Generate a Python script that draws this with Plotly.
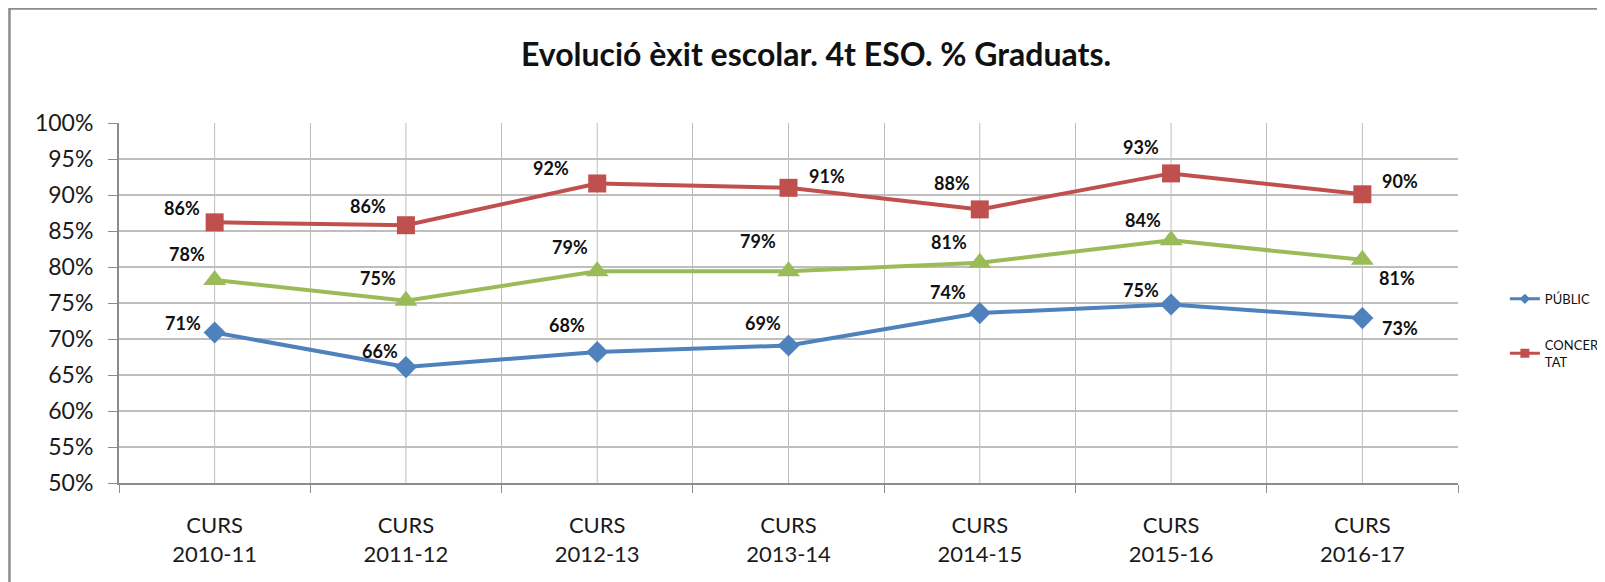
import plotly.graph_objects as go

# ---- data ----
categories = ["CURS<br>2010-11", "CURS<br>2011-12", "CURS<br>2012-13", "CURS<br>2013-14",
              "CURS<br>2014-15", "CURS<br>2015-16", "CURS<br>2016-17"]
publico = [0.709, 0.661, 0.682, 0.691, 0.736, 0.748, 0.729]
concertat = [0.862, 0.858, 0.916, 0.910, 0.880, 0.930, 0.901]
total = [0.782, 0.753, 0.794, 0.794, 0.806, 0.837, 0.810]
y_ticks = [0.50, 0.55, 0.60, 0.65, 0.70, 0.75, 0.80, 0.85, 0.90, 0.95, 1.00]

# ---- label placement (pixel offsets, layout only) ----
off_pub = [(-32, 10), (-26, 16), (-30, 27), (-26, 22), (-32, 21), (-30, 14), (38, -10)]
off_con = [(-33, 14), (-38, 19), (-46, 15), (38, 12), (-28, 26), (-30, 26), (38, 13)]
off_tot = [(-28, 26), (-28, 23), (-27, 24), (-31, 30), (-31, 21), (-28, 20), (35, -18)]

BLUE = "#4F81BD"
RED = "#C0504D"
GREEN = "#9BBB59"
FONT = "Lato"
GRID = "#BEBEBE"
AXIS = "#8C8C8C"

fig = go.Figure()
fig.add_trace(go.Scatter(x=categories, y=publico, name="PÚBLIC", mode="lines+markers",
                         line=dict(color=BLUE, width=4),
                         marker=dict(symbol="diamond", size=17, color=BLUE),
                         showlegend=False))
fig.add_trace(go.Scatter(x=categories, y=concertat, name="CONCERTAT", mode="lines+markers",
                         line=dict(color=RED, width=4),
                         marker=dict(symbol="square", size=18, color=RED),
                         showlegend=False))
fig.add_trace(go.Scatter(x=categories, y=total, name="TOTAL", mode="lines+markers",
                         line=dict(color=GREEN, width=4),
                         marker=dict(symbol="triangle-up", size=20, color=GREEN),
                         showlegend=False))

# legend entries (smaller legend symbols, as in the original)
fig.add_trace(go.Scatter(x=[None], y=[None], name="PÚBLIC", mode="lines+markers",
                         line=dict(color=BLUE, width=3),
                         marker=dict(symbol="diamond", size=8, color=BLUE),
                         legendgroup="a"))
fig.add_trace(go.Scatter(x=[None], y=[None], name="CONCER<br>TAT", mode="lines+markers",
                         line=dict(color=RED, width=3),
                         marker=dict(symbol="square", size=9, color=RED),
                         legendgroup="b"))

for vals, offs in ((publico, off_pub), (concertat, off_con), (total, off_tot)):
    for c, v, (dx, dy) in zip(categories, vals, offs):
        fig.add_annotation(x=c, y=v, text=f"{round(v * 100)}%", showarrow=False,
                           xshift=dx, yshift=dy,
                           font=dict(family=FONT, size=18, color="#111111", weight="bold"))

# vertical gridlines at category centres
for c in categories:
    fig.add_shape(type="line", xref="x", yref="paper", x0=c, x1=c, y0=0, y1=1,
                  line=dict(color=GRID, width=1), layer="below")

# outer chart frame (top and left visible)
fig.add_shape(type="path", xref="paper", yref="paper",
              path="M -0.0818,-0.35 L -0.0818,1.318 L 1.15,1.318",
              line=dict(color=AXIS, width=2.5))

fig.update_layout(
    width=1605, height=582,
    margin=dict(l=111, r=155, t=115, b=107, autoexpand=False),
    paper_bgcolor="white", plot_bgcolor="white",
    title=dict(text="<b>Evolució èxit escolar. 4t ESO. % Graduats.</b>",
               x=808 / 1605, xref="container", xanchor="center",
               y=1 - 47 / 582, yref="container", yanchor="middle",
               font=dict(family=FONT, size=32, color="#111111")),
    legend=dict(x=1.035, y=0.553, xanchor="left", yanchor="top",
                font=dict(family=FONT, size=13, color="#111111"),
                tracegroupgap=26, traceorder="grouped",
                bgcolor="rgba(0,0,0,0)"),
    font=dict(family=FONT),
)
fig.update_xaxes(type="category", tickson="boundaries", showgrid=True, gridcolor=GRID,
                 gridwidth=1, ticks="outside", ticklen=8, tickcolor=AXIS,
                 showline=True, linecolor=AXIS, linewidth=2,
                 tickfont=dict(family=FONT, size=22, color="#1a1a1a"),
                 ticklabelstandoff=22, range=[-0.5, 6.5], automargin=False)
fig.update_yaxes(range=[0.5, 1.0], tickvals=y_ticks, tickformat=".0%",
                 showgrid=True, gridcolor=GRID, gridwidth=2,
                 ticks="outside", ticklen=9, tickcolor=AXIS,
                 showline=True, linecolor=AXIS, linewidth=2,
                 tickfont=dict(family=FONT, size=23, color="#1a1a1a"),
                 ticklabelstandoff=10, zeroline=False, automargin=False)

fig.write_html("out.html")
